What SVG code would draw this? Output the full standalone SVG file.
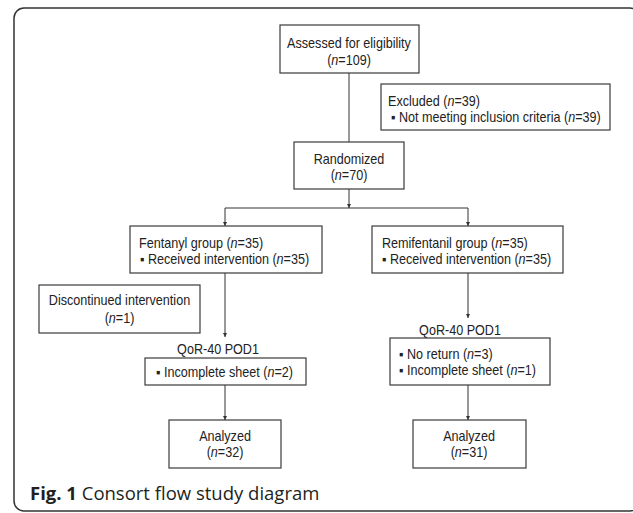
<svg xmlns="http://www.w3.org/2000/svg" width="633" height="513" viewBox="0 0 633 513">
<style>
.box{fill:#fff;stroke:#3a3a3a;stroke-width:1.2}
.t{font-family:"Liberation Sans",Arial,sans-serif;font-size:14px;fill:#222}
.c{text-anchor:middle}
.ln{fill:none;stroke:#333;stroke-width:1}
.cap{font-family:"Open Sans","Noto Sans",sans-serif;font-size:18.5px;fill:#231f20}
</style>
<defs>
<marker id="ah" viewBox="0 0 6 6" refX="6" refY="3" markerWidth="4" markerHeight="4" orient="auto" markerUnits="userSpaceOnUse">
<path d="M0,0 L6,3 L0,6 z" fill="#333"/>
</marker>
</defs>
<rect x="0" y="0" width="633" height="513" fill="#fff"/>
<rect x="14" y="8" width="626" height="503" rx="10" ry="10" fill="none" stroke="#333" stroke-width="1.5"/>

<g id="connectors">
<line class="ln" x1="349" y1="73" x2="349" y2="142"/>
<line class="ln" x1="349" y1="189" x2="349" y2="208" marker-end="url(#ah)"/>
<line class="ln" x1="225" y1="208" x2="468" y2="208"/>
<line class="ln" x1="225" y1="208" x2="225" y2="226" marker-end="url(#ah)"/>
<line class="ln" x1="468" y1="208" x2="468" y2="226" marker-end="url(#ah)"/>
<line class="ln" x1="225" y1="273" x2="225" y2="337" marker-end="url(#ah)"/>
<line class="ln" x1="468" y1="273" x2="468" y2="318" marker-end="url(#ah)"/>
<line class="ln" x1="225" y1="385" x2="225" y2="420" marker-end="url(#ah)"/>
<line class="ln" x1="468" y1="385" x2="468" y2="420" marker-end="url(#ah)"/>
</g>

<g id="assessed">
<rect class="box" x="280" y="25" width="139" height="48"/>
<text class="t c" transform="translate(349 48) scale(0.9 1)">Assessed for eligibility</text>
<text class="t c" transform="translate(349 65) scale(0.9 1)">(<tspan font-style="italic">n</tspan>=109)</text>
</g>

<g id="excluded">
<rect class="box" x="381" y="84" width="229" height="46"/>
<text class="t" transform="translate(388 106) scale(0.9 1)">Excluded (<tspan font-style="italic">n</tspan>=39)</text>
<text class="t" transform="translate(391 122) scale(0.9 1)">▪ Not meeting inclusion criteria (<tspan font-style="italic">n</tspan>=39)</text>
</g>

<g id="randomized">
<rect class="box" x="294" y="142" width="110" height="47"/>
<text class="t c" transform="translate(349 164) scale(0.9 1)">Randomized</text>
<text class="t c" transform="translate(349 180) scale(0.9 1)">(<tspan font-style="italic">n</tspan>=70)</text>
</g>

<g id="fentanyl">
<rect class="box" x="130" y="226" width="192" height="47"/>
<text class="t" transform="translate(139 248) scale(0.9 1)">Fentanyl group (<tspan font-style="italic">n</tspan>=35)</text>
<text class="t" transform="translate(140 264) scale(0.9 1)">▪ Received intervention (<tspan font-style="italic">n</tspan>=35)</text>
</g>

<g id="remifentanil">
<rect class="box" x="372" y="226" width="191" height="47"/>
<text class="t" transform="translate(382 248) scale(0.9 1)">Remifentanil group (<tspan font-style="italic">n</tspan>=35)</text>
<text class="t" transform="translate(382 264) scale(0.9 1)">▪ Received intervention (<tspan font-style="italic">n</tspan>=35)</text>
</g>

<g id="discontinued">
<rect class="box" x="39" y="285" width="161" height="48"/>
<text class="t c" transform="translate(119.5 305) scale(0.9 1)">Discontinued intervention</text>
<text class="t c" transform="translate(119.5 323) scale(0.9 1)">(<tspan font-style="italic">n</tspan>=1)</text>
</g>

<g id="qor-left">
<text class="t c" transform="translate(218 354) scale(0.9 1)">QoR-40 POD1</text>
<rect class="box" x="145" y="358" width="161" height="27"/>
<text class="t" transform="translate(156 377) scale(0.9 1)">▪ Incomplete sheet (<tspan font-style="italic">n</tspan>=2)</text>
</g>

<g id="qor-right">
<text class="t c" transform="translate(460 335) scale(0.9 1)">QoR-40 POD1</text>
<rect class="box" x="390" y="338" width="160" height="47"/>
<text class="t" transform="translate(399 359) scale(0.9 1)">▪ No return (<tspan font-style="italic">n</tspan>=3)</text>
<text class="t" transform="translate(399 375) scale(0.9 1)">▪ Incomplete sheet (<tspan font-style="italic">n</tspan>=1)</text>
</g>

<g id="analyzed-left">
<rect class="box" x="169" y="420" width="112" height="48"/>
<text class="t c" transform="translate(225 441) scale(0.9 1)">Analyzed</text>
<text class="t c" transform="translate(225 457) scale(0.9 1)">(<tspan font-style="italic">n</tspan>=32)</text>
</g>

<g id="analyzed-right">
<rect class="box" x="413" y="420" width="113" height="48"/>
<text class="t c" transform="translate(469 441) scale(0.9 1)">Analyzed</text>
<text class="t c" transform="translate(469 457) scale(0.9 1)">(<tspan font-style="italic">n</tspan>=31)</text>
</g>

<text class="cap" x="30" y="500"><tspan font-weight="bold">Fig. 1</tspan> Consort flow study diagram</text>
</svg>
